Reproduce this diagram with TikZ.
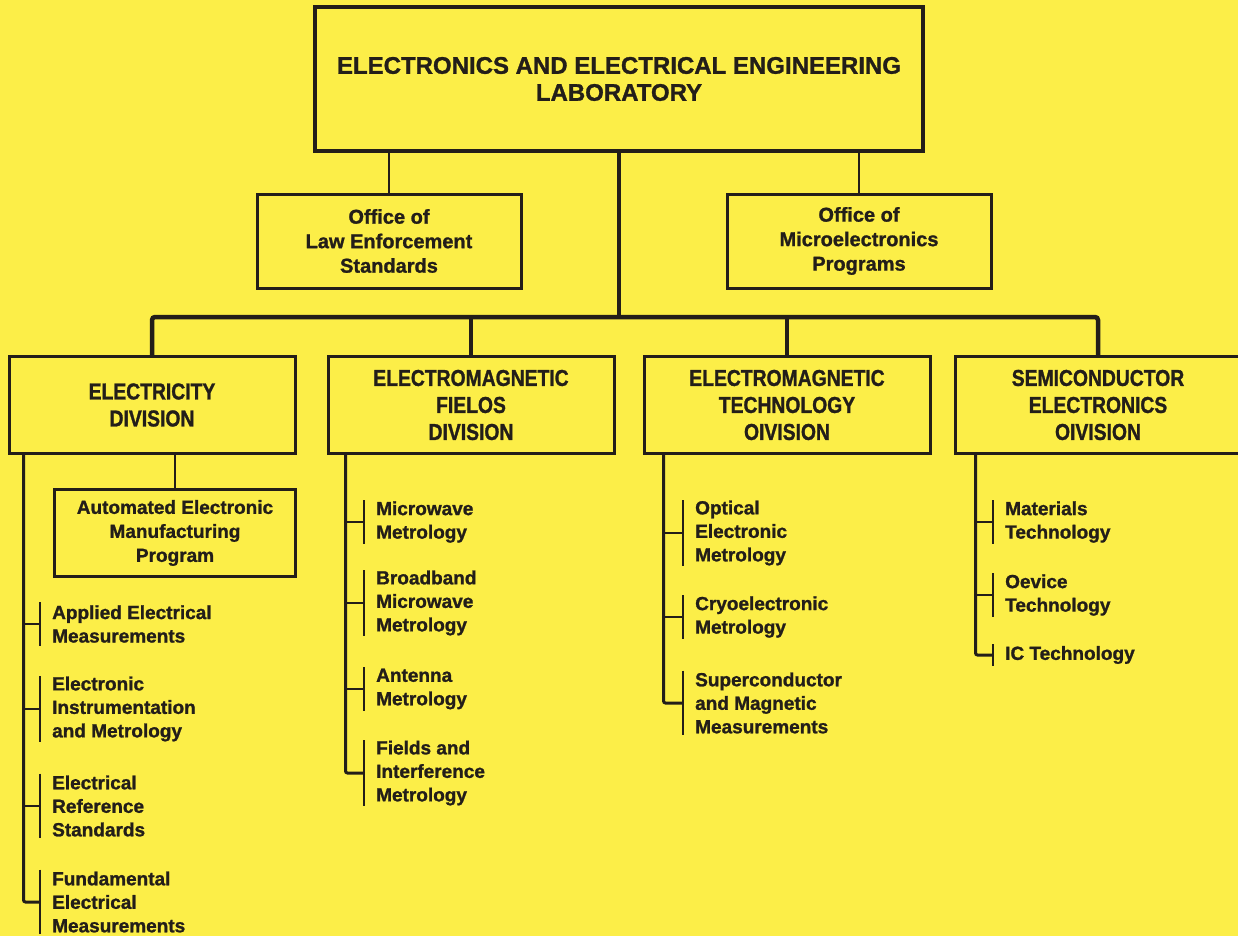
\documentclass[tikz,border=0pt]{standalone}
\usepackage{fontspec}
\setmainfont{Liberation Sans}[BoldFeatures={FakeBold=1.2}]
\newfontfamily\capsfont{Liberation Sans}[FakeStretch=0.84, BoldFeatures={FakeBold=1.2}]
\definecolor{paper}{RGB}{252,238,72}
\definecolor{ink}{RGB}{35,30,25}

\begin{document}
\begin{tikzpicture}[x=1pt, y=-1pt,
    every node/.style={text=ink},
    labbox/.style={draw=ink, line width=4pt, minimum width=608pt, minimum height=144pt,
      align=center, font=\bfseries\fontsize{24}{27}\selectfont},
    officebox/.style={draw=ink, line width=3pt, minimum width=264pt, minimum height=94pt,
      align=center, font=\bfseries\fontsize{20}{24.5}\selectfont},
    divbox/.style={draw=ink, line width=3pt, minimum width=286pt, minimum height=97pt,
      align=center, font=\capsfont\bfseries\fontsize{23}{27}\selectfont},
    item/.style={anchor=west, align=left, inner xsep=12pt, inner ysep=0pt,
      font=\bfseries\fontsize{19}{23.5}\selectfont},
    link/.style={ink, line width=2.5pt},
    bus/.style={ink, line width=4.5pt, rounded corners=3pt},
    spine/.style={ink, line width=3pt, rounded corners=2pt},
    tick/.style={ink, line width=2.5pt}]
    \fill[paper] (0,0) rectangle (1238,936);
    \useasboundingbox (0,0) rectangle (1238,936);

    % Laboratory and its offices
    \node[labbox] (lab) at (619,79) {ELECTRONICS AND ELECTRICAL ENGINEERING\\LABORATORY};
    \node[officebox] (law) at (389,241) {Office of\\Law Enforcement\\Standards};
    \node[officebox] (micro) at (859,241) {Office of\\Microelectronics\\Programs};
    \draw[link] (lab.south -| law.north) -- (law.north);
    \draw[link] (lab.south -| micro.north) -- (micro.north);

    % Divisions
    \node[divbox] (elec) at (152,405) {ELECTRICITY\\DIVISION};
    \node[divbox] (fields) at (471,405) {ELECTROMAGNETIC\\FIELOS\\DIVISION};
    \node[divbox] (tech) at (787,405) {ELECTROMAGNETIC\\TECHNOLOGY\\OIVISION};
    \node[divbox] (semi) at (1098,405) {SEMICONDUCTOR\\ELECTRONICS\\OIVISION};
    \coordinate (bus) at (619,317);
    \draw[bus] (lab.south) -- (bus);
    \draw[bus] (elec.north) |- (bus) -| (semi.north);
    \draw[bus] (fields.north) -- (fields.north |- bus);
    \draw[bus] (tech.north) -- (tech.north |- bus);

    % Program under the electricity division
    \node[officebox, line width=2.5pt, minimum width=241pt, minimum height=87pt,
      font=\bfseries\fontsize{19}{24}\selectfont] (auto) at (175,533)
      {Automated Electronic\\Manufacturing\\Program};
    \draw[link, line width=2pt] (auto.north) -- (auto.north |- elec.south);

    % Electricity division sections
    \coordinate (elec-top) at ([xshift=16pt]elec.south west);
    \foreach \y/\n/\txt [count=\i] in {624/2/{Applied Electrical\\Measurements},
        709/3/{Electronic\\Instrumentation\\and Metrology},
        806/3/{Electrical\\Reference\\Standards},
        902/3/{Fundamental\\Electrical\\Measurements}} {
      \node[item, minimum height=21.5*\n] (elec-\i) at (40,\y) {\txt};
      \draw[tick] (elec-\i.north west) -- (elec-\i.south west);
      \draw[tick] (elec-\i.west) -- (elec-\i.west -| elec-top);
    }
    \draw[spine] (elec-top) -- (elec-top |- elec-4.west) -- (elec-4.west);

    % Electromagnetic fields division sections
    \coordinate (fields-top) at ([xshift=19pt]fields.south west);
    \foreach \y/\n/\txt [count=\i] in {522/2/{Microwave\\Metrology},
        603/3/{Broadband\\Microwave\\Metrology},
        689/2/{Antenna\\Metrology},
        773/3/{Fields and\\Interference\\Metrology}} {
      \node[item, minimum height=21.5*\n] (fields-\i) at (364,\y) {\txt};
      \draw[tick] (fields-\i.north west) -- (fields-\i.south west);
      \draw[tick] (fields-\i.west) -- (fields-\i.west -| fields-top);
    }
    \draw[spine] (fields-top) -- (fields-top |- fields-4.west) -- (fields-4.west);

    % Electromagnetic technology division sections
    \coordinate (tech-top) at ([xshift=21pt]tech.south west);
    \foreach \y/\n/\txt [count=\i] in {533/3/{Optical\\Electronic\\Metrology},
        617/2/{Cryoelectronic\\Metrology},
        703/3/{Superconductor\\and Magnetic\\Measurements}} {
      \node[item, minimum height=21.5*\n] (tech-\i) at (683,\y) {\txt};
      \draw[tick] (tech-\i.north west) -- (tech-\i.south west);
      \draw[tick] (tech-\i.west) -- (tech-\i.west -| tech-top);
    }
    \draw[spine] (tech-top) -- (tech-top |- tech-3.west) -- (tech-3.west);

    % Semiconductor electronics division sections
    \coordinate (semi-top) at ([xshift=22pt]semi.south west);
    \foreach \y/\n/\txt [count=\i] in {522/2/{Materials\\Technology},
        595/2/{Oevice\\Technology},
        655/1/{IC Technology}} {
      \node[item, minimum height=21.5*\n] (semi-\i) at (993,\y) {\txt};
      \draw[tick] (semi-\i.north west) -- (semi-\i.south west);
      \draw[tick] (semi-\i.west) -- (semi-\i.west -| semi-top);
    }
    \draw[spine] (semi-top) -- (semi-top |- semi-3.west) -- (semi-3.west);
  \end{tikzpicture}
\end{document}
